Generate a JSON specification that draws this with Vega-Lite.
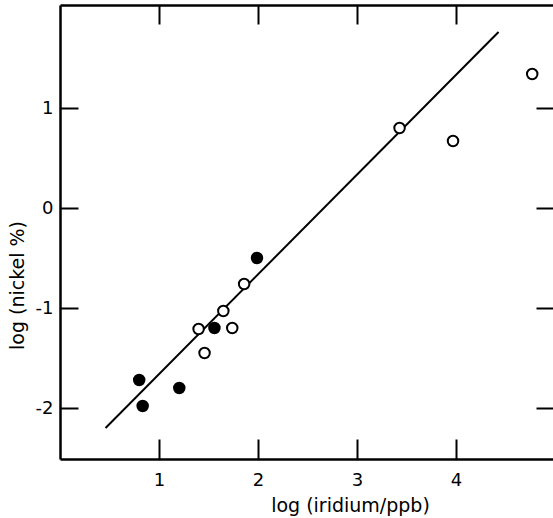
{
  "$schema": "https://vega.github.io/schema/vega-lite/v6.json",
  "autosize": "none",
  "padding": {"left": 60, "top": 5, "right": 0, "bottom": 59},
  "width": 493,
  "height": 454,
  "background": "white",
  "config": {
    "view": {"stroke": null},
    "font": "DejaVu Sans",
    "axis": {"grid": false, "domainColor": "black", "tickColor": "black", "labelColor": "black", "titleColor": "black", "labelFont": "DejaVu Sans", "titleFont": "DejaVu Sans", "titleFontWeight": "normal"}
  },
  "datasets": {
    "pts": [
      {"ir": 0.80, "ni": -1.72, "kind": "filled"},
      {"ir": 0.835, "ni": -1.98, "kind": "filled"},
      {"ir": 1.205, "ni": -1.80, "kind": "filled"},
      {"ir": 1.56, "ni": -1.20, "kind": "filled"},
      {"ir": 1.99, "ni": -0.50, "kind": "filled"},
      {"ir": 1.40, "ni": -1.21, "kind": "open"},
      {"ir": 1.46, "ni": -1.45, "kind": "open"},
      {"ir": 1.65, "ni": -1.03, "kind": "open"},
      {"ir": 1.74, "ni": -1.20, "kind": "open"},
      {"ir": 1.86, "ni": -0.76, "kind": "open"},
      {"ir": 3.43, "ni": 0.80, "kind": "open"},
      {"ir": 3.97, "ni": 0.67, "kind": "open"},
      {"ir": 4.77, "ni": 1.34, "kind": "open"}
    ],
    "fit": [
      {"ir": 0.46, "ni": -2.20},
      {"ir": 4.43, "ni": 1.76}
    ]
  },
  "resolve": {"axis": {"x": "independent", "y": "independent"}},
  "layer": [
    {
      "data": {"name": "fit"},
      "mark": {"type": "line", "color": "black", "strokeWidth": 2},
      "encoding": {
        "x": {"field": "ir", "type": "quantitative", "scale": {"domain": [0, 4.98], "nice": false, "zero": false},
          "axis": {"orient": "bottom", "title": "log (iridium/ppb)", "values": [1, 2, 3, 4], "tickSize": -20, "tickWidth": 2, "domainWidth": 2.5, "labelFontSize": 18, "labelPadding": 32, "titleFontSize": 19, "titleX": 290, "titleY": 52, "titleAlign": "center", "titleBaseline": "alphabetic", "labelFlush": false}},
        "y": {"field": "ni", "type": "quantitative", "scale": {"domain": [-2.51, 2.03], "nice": false, "zero": false},
          "axis": {"orient": "left", "title": "log (nickel %)", "values": [-2, -1, 0, 1], "labelExpr": "toString(datum.value)", "tickSize": -18, "tickWidth": 2, "domainWidth": 2.5, "labelFontSize": 18, "labelPadding": 25, "titleFontSize": 19, "titleX": -43, "titleY": 280, "titleAlign": "center", "titleBaseline": "middle", "labelFlush": false}}
      }
    },
    {
      "data": {"name": "pts"},
      "mark": {"type": "point", "filled": false, "shape": "circle", "strokeWidth": 2, "size": 110, "stroke": "black", "opacity": 1},
      "encoding": {
        "x": {"field": "ir", "type": "quantitative", "axis": {"orient": "top", "title": null, "labels": false, "values": [1, 2, 3, 4], "tickSize": -19, "tickWidth": 2, "domainWidth": 2.5}},
        "y": {"field": "ni", "type": "quantitative", "axis": {"orient": "right", "title": null, "labels": false, "domain": false, "values": [-2, -1, 0, 1], "tickSize": -17, "tickWidth": 2}},
        "fill": {"field": "kind", "type": "nominal", "scale": {"domain": ["filled", "open"], "range": ["black", "white"]}, "legend": null}
      }
    }
  ]
}
